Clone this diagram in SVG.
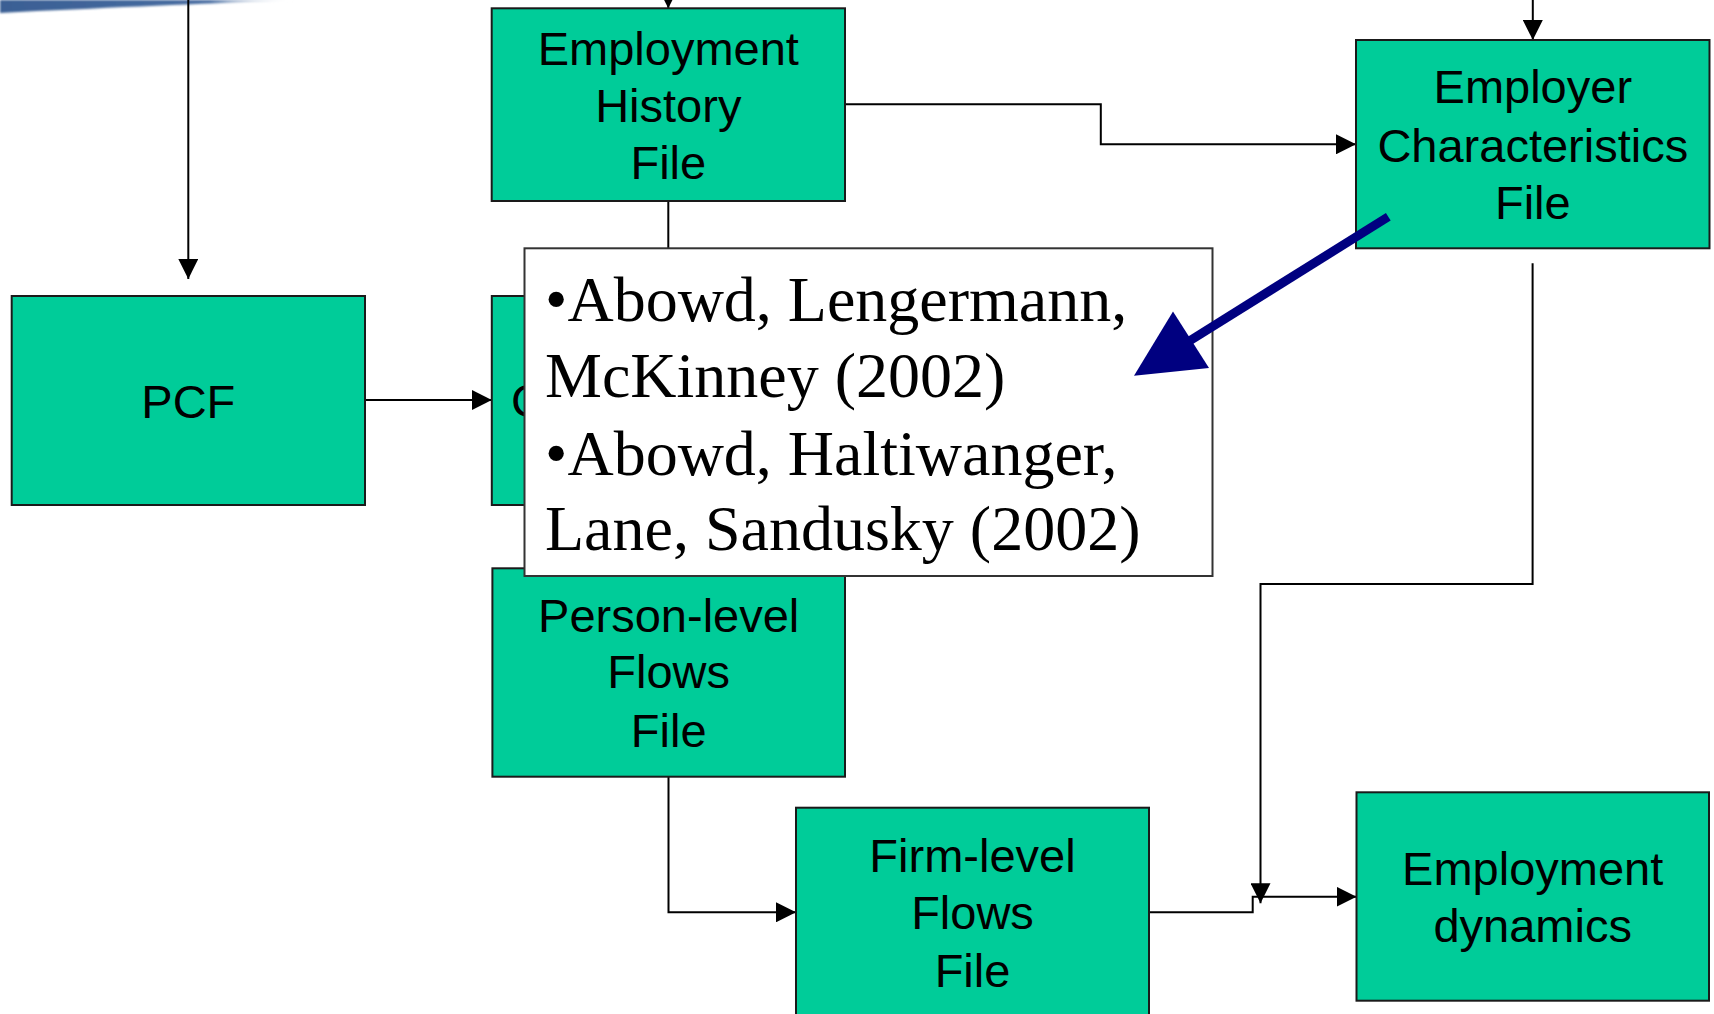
<svg xmlns="http://www.w3.org/2000/svg" width="1714" height="1014" viewBox="0 0 1714 1014">
  <defs>
    <style>
      .node rect { fill: #00CC99; stroke: #1a1a1a; stroke-width: 2; }
      .node text { font-family: "Liberation Sans", Arial, sans-serif; font-size: 47px; fill: #000; text-anchor: middle; }
      .conn path { fill: none; stroke: #000; stroke-width: 2; }
      .note rect { fill: #fff; stroke: #333; stroke-width: 2; }
      .note text { font-family: "Liberation Serif", "Times New Roman", serif; font-size: 64px; fill: #000; }
    </style>
    <marker id="head" markerUnits="userSpaceOnUse" markerWidth="20" markerHeight="20" refX="20" refY="10" orient="auto">
      <path d="M0,0 L20,10 L0,20 Z" fill="#000"/>
    </marker>
    <linearGradient id="swooshFill" x1="0" y1="0" x2="300" y2="0" gradientUnits="userSpaceOnUse">
      <stop offset="0" stop-color="#3a5f94"/>
      <stop offset="0.7" stop-color="#486da1"/>
      <stop offset="1" stop-color="#ffffff" stop-opacity="0"/>
    </linearGradient>
    <filter id="soft" x="-5%" y="-50%" width="110%" height="200%">
      <feGaussianBlur stdDeviation="0.8"/>
    </filter>
  </defs>

  <rect x="0" y="0" width="1714" height="1014" fill="#ffffff"/>

  <!-- decorative band at the top-left corner -->
  <path d="M0,0 H300 C220,3 120,7 0,13 Z" fill="url(#swooshFill)" filter="url(#soft)"/>

  <!-- connectors -->
  <g id="connectors" class="conn">
    <path d="M188.3,-5 V279" marker-end="url(#head)"/>
    <path d="M668.3,-30 V8.3" marker-end="url(#head)"/>
    <path d="M1532.8,-5 V40" marker-end="url(#head)"/>
    <path d="M845,104.3 H1100.8 V144.3 H1356" marker-end="url(#head)"/>
    <path d="M365,400 H491.8" marker-end="url(#head)"/>
    <path d="M668.3,201 V296" marker-end="url(#head)"/>
    <path d="M668.5,776.7 V912.3 H796" marker-end="url(#head)"/>
    <path d="M1149,912.3 H1252.7 V896.7 H1356.5" marker-end="url(#head)"/>
    <path d="M1532.6,263.3 V584 H1260.5 V903.3" marker-end="url(#head)"/>
  </g>

  <!-- nodes -->
  <g id="pcf" class="node">
    <rect x="11.7" y="296" width="353.3" height="209"/>
    <text x="188.3" y="418.3">PCF</text>
  </g>

  <g id="employment-history" class="node">
    <rect x="491.7" y="8.3" width="353.3" height="192.7"/>
    <text x="668.3" y="65">Employment</text>
    <text x="668.3" y="121.7">History</text>
    <text x="668.3" y="179">File</text>
  </g>

  <g id="employer-characteristics" class="node">
    <rect x="1356" y="40" width="353.5" height="208.3"/>
    <text x="1532.8" y="103.3">Employer</text>
    <text x="1532.8" y="161.7">Characteristics</text>
    <text x="1532.8" y="219">File</text>
  </g>

  <g id="c-file" class="node">
    <rect x="491.8" y="296" width="353.2" height="209"/>
    <text x="511" y="417" style="text-anchor:start">C</text>
  </g>

  <g id="person-flows" class="node">
    <rect x="492.4" y="568.3" width="352.6" height="208.4"/>
    <text x="668.7" y="631.7">Person-level</text>
    <text x="668.7" y="688.3">Flows</text>
    <text x="668.7" y="746.7">File</text>
  </g>

  <g id="firm-flows" class="node">
    <rect x="796" y="807.7" width="353" height="222"/>
    <text x="972.5" y="871.7">Firm-level</text>
    <text x="972.5" y="929">Flows</text>
    <text x="972.5" y="986.7">File</text>
  </g>

  <g id="employment-dynamics" class="node">
    <rect x="1356.5" y="792.3" width="352.5" height="208.4"/>
    <text x="1532.7" y="885">Employment</text>
    <text x="1532.7" y="941.7">dynamics</text>
  </g>

  <!-- reference callout -->
  <g id="references" class="note">
    <rect x="524.5" y="248.3" width="688" height="327.7"/>
    <text x="545" y="320.7">•Abowd, Lengermann,</text>
    <text x="545" y="396.7">McKinney (2002)</text>
    <text x="545" y="475">•Abowd, Haltiwanger,</text>
    <text x="545" y="550">Lane, Sandusky (2002)</text>
  </g>

  <!-- pointer from the employer file to the callout -->
  <g id="pointer">
    <line x1="1388.3" y1="216.7" x2="1189" y2="341.3" stroke="#000080" stroke-width="9"/>
    <polygon points="1134,375.7 1173,311.5 1209,368" fill="#000080"/>
  </g>
</svg>
